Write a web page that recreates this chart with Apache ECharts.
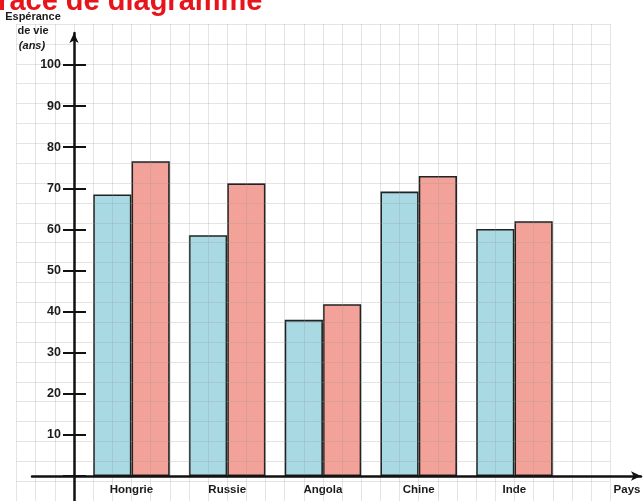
<!DOCTYPE html>
<html>
<head>
<meta charset="utf-8">
<script src="https://cdn.jsdelivr.net/npm/echarts@6/dist/echarts.min.js"></script>
<style>
html,body{margin:0;padding:0;background:#fff;}
#c{width:643px;height:501px;}
</style>
</head>
<body>
<div id="c"></div>
<script>
var categories = ['Hongrie', 'Russie', 'Angola', 'Chine', 'Inde'];
var hommes = [68.5, 58.6, 38.0, 69.2, 60.1];
var femmes = [76.6, 71.2, 41.8, 73.0, 62.0];
var yTickLabels = ['10', '20', '30', '40', '50', '60', '70', '80', '90', '100'];

var F = "'Liberation Sans', sans-serif";
var ink = '#1a1a1a';

var chart = echarts.init(document.getElementById('c'), null, {renderer: 'canvas'});
chart.setOption({
  backgroundColor: '#ffffff',
  animation: false,
  grid: [
    {left: 83.6, right: 80.7, top: 65, bottom: 25, containLabel: false},
    {left: 32, right: 2, top: 33, bottom: 0},
    {left: 16.55, right: 32.8, top: 24, bottom: -16.1}
  ],
  xAxis: [
    {
      type: 'category', gridIndex: 0, data: categories,
      axisLine: {show: false}, axisTick: {show: false},
      axisLabel: {margin: 8, fontSize: 11.5, fontWeight: 'bold', color: ink, fontFamily: F},
      splitLine: {show: false}
    },
    {
      type: 'value', gridIndex: 1, min: -42, max: 567, z: 6,
      axisLine: {show: true, onZero: true, symbol: ['none', 'arrow'], symbolSize: [7, 10],
        lineStyle: {color: '#111', width: 2.5}},
      axisTick: {show: false}, axisLabel: {show: false}, splitLine: {show: false}
    },
    {
      type: 'value', gridIndex: 2, min: -3, max: 28, interval: 1, z: 3,
      axisLine: {show: false}, axisTick: {show: false}, axisLabel: {show: false},
      splitLine: {show: true, lineStyle: {color: 'rgba(150,150,150,0.26)', width: 1}}
    }
  ],
  yAxis: [
    {
      type: 'value', gridIndex: 0, min: 0, max: 100, interval: 10, position: 'left', offset: 9.6, z: 6,
      axisLine: {show: false},
      axisTick: {show: true, length: 11, lineStyle: {color: '#111', width: 2}},
      axisLabel: {margin: 13, fontSize: 12.5, fontWeight: 'bold', color: ink, fontFamily: F,
        formatter: function (v) { var i = Math.round(v / 10) - 1; return (i >= 0 && i < yTickLabels.length) ? yTickLabels[i] : ''; }},
      splitLine: {show: false}
    },
    {
      type: 'value', gridIndex: 0, min: 0, max: 100, interval: 10, position: 'left', offset: 9.6, z: 6,
      axisLine: {show: false},
      axisTick: {show: true, inside: true, length: 12, lineStyle: {color: '#111', width: 2}},
      axisLabel: {show: false}, splitLine: {show: false}
    },
    {
      type: 'value', gridIndex: 1, min: -25, max: 443, z: 6,
      axisLine: {show: true, onZero: true, symbol: ['none', 'arrow'], symbolSize: [7, 10],
        lineStyle: {color: '#111', width: 2.5}},
      axisTick: {show: false}, axisLabel: {show: false}, splitLine: {show: false}
    },
    {
      type: 'value', gridIndex: 2, min: -10, max: 110, interval: 5, z: 3,
      axisLine: {show: false}, axisTick: {show: false}, axisLabel: {show: false},
      splitLine: {show: true, lineStyle: {color: 'rgba(150,150,150,0.26)', width: 1}}
    }
  ],
  series: [
    {
      name: 'Hommes', type: 'bar', xAxisIndex: 0, yAxisIndex: 0, data: hommes,
      barGap: '0%', barCategoryGap: '20%', z: 1,
      itemStyle: {color: '#a9d9e3', borderColor: '#222', borderWidth: 1.6}
    },
    {
      name: 'Femmes', type: 'bar', xAxisIndex: 0, yAxisIndex: 0, data: femmes,
      barGap: '0%', barCategoryGap: '20%', z: 1,
      itemStyle: {color: '#f2a298', borderColor: '#222', borderWidth: 1.6}
    }
  ],
  graphic: [
    {type: 'text', left: -18, top: -13, z: 10,
      style: {text: 'Tracé de diagramme', fill: '#e8141c', font: "bold 29px 'Liberation Sans', sans-serif"}},
    {type: 'text', x: 33, y: 17, z: 10,
      style: {text: 'Espérance', fill: ink, align: 'center', verticalAlign: 'middle', font: "bold 11px " + F}},
    {type: 'text', x: 33, y: 31, z: 10,
      style: {text: 'de vie', fill: ink, align: 'center', verticalAlign: 'middle', font: "bold 11px " + F}},
    {type: 'text', x: 32, y: 46, z: 10,
      style: {text: '(ans)', fill: ink, align: 'center', verticalAlign: 'middle', font: "italic bold 11px " + F}},
    {type: 'text', x: 627, y: 490, z: 10,
      style: {text: 'Pays', fill: ink, align: 'center', verticalAlign: 'middle', font: "bold 11.5px " + F}}
  ]
});
</script>
</body>
</html>
